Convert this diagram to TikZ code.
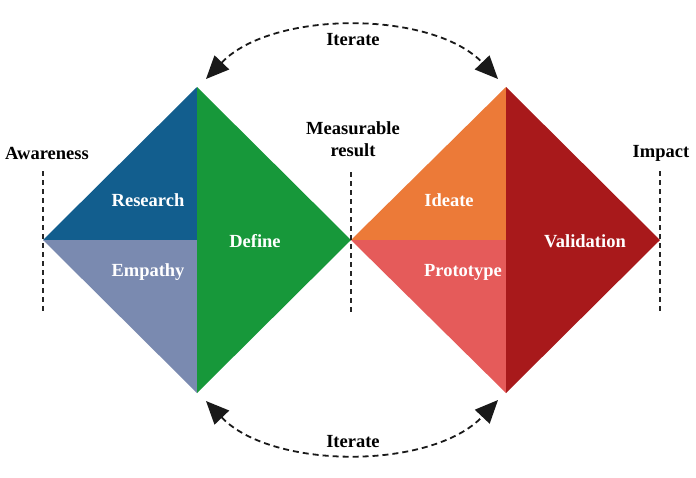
\documentclass[tikz,border=0pt]{standalone}
\usepackage{fontspec}
\setmainfont{Liberation Serif}
\usetikzlibrary{arrows.meta}
\definecolor{cResearch}{HTML}{125E8E}
\definecolor{cEmpathy}{HTML}{7A8AB0}
\definecolor{cDefine}{HTML}{17983A}
\definecolor{cIdeate}{HTML}{EC7A38}
\definecolor{cProto}{HTML}{E55B5A}
\definecolor{cValid}{HTML}{A8191B}
\tikzset{
  lbl/.style={font=\fontsize{18.5}{21}\selectfont\bfseries, text=white, inner sep=0pt},
  blbl/.style={font=\fontsize{18.5}{22}\selectfont\bfseries, text=black, inner sep=0pt, align=center},
  marker/.style={line width=1.8pt, dash pattern=on 5pt off 4pt, black!85},
  iter/.style={line width=1.8pt, dash pattern=on 6pt off 4pt, black!90, {Triangle[length=23pt,width=20pt]}-{Triangle[length=23pt,width=20pt]}}
}
\begin{document}
\begin{tikzpicture}[x=1pt,y=-1pt]
\useasboundingbox (0,0) rectangle (696,477);
% left diamond
\coordinate (aL) at (43,240);
\coordinate (aT) at (197,87);
\coordinate (aB) at (197,393);
\coordinate (aC) at (197,240);
\coordinate (mid) at (351,240);
% right diamond
\coordinate (bT) at (506,87);
\coordinate (bB) at (506,393);
\coordinate (bC) at (506,240);
\coordinate (bR) at (660,240);
\fill[cResearch] (aL) -- (aT) -- (aC) -- cycle;
\fill[cEmpathy] (aL) -- (aC) -- (aB) -- cycle;
\fill[cDefine] (aT) -- (mid) -- (aB) -- cycle;
\fill[cIdeate] (mid) -- (bT) -- (bC) -- cycle;
\fill[cProto] (mid) -- (bC) -- (bB) -- cycle;
\fill[cValid] (bT) -- (bR) -- (bB) -- cycle;
% labels
\node[lbl] (research) at (148,200) {Research};
\node[lbl] (empathy) at (148,272) {Empathy};
\node[lbl] (define) at (255,241) {Define};
\node[lbl] (ideate) at (449,200) {Ideate};
\node[lbl] (prototype) at (463,272) {Prototype};
\node[lbl] (validation) at (585,241) {Validation};
% markers
\coordinate (m1t) at (43,171); \coordinate (m1b) at (43,312);
\coordinate (m2t) at (351,172); \coordinate (m2b) at (351,312);
\coordinate (m3t) at (660,171); \coordinate (m3b) at (660,312);
\draw[marker] (m1t) -- (m1b);
\draw[marker] (m2t) -- (m2b);
\draw[marker] (m3t) -- (m3b);
\node[blbl] (awareness) at (47,153) {Awareness};
\node[blbl] (measurable) at (353,139) {Measurable\\result};
\node[blbl] (impact) at (661,153) {Impact};
% iterate arcs
\coordinate (t1) at (206,79); \coordinate (t2) at (498,79);
\coordinate (u1) at (206,401); \coordinate (u2) at (498,400);
\draw[iter] (t1) .. controls (272,10) and (432,10) .. (t2);
\draw[iter] (u1) .. controls (272,470) and (432,470) .. (u2);
\node[blbl] (it1) at (353,40) {Iterate};
\node[blbl] (it2) at (353,442) {Iterate};
\end{tikzpicture}
\end{document}
